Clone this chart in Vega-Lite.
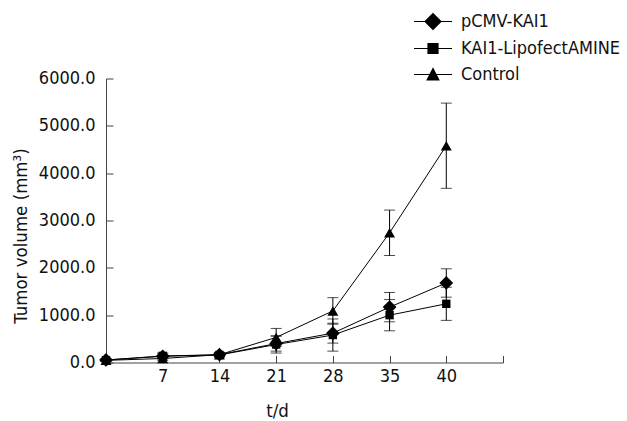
{
  "$schema": "https://vega.github.io/schema/vega-lite/v6.json",
  "autosize": {"type": "none"},
  "padding": {"left": 106, "top": 78.5, "right": 124, "bottom": 58.5},
  "width": 397,
  "height": 284,
  "background": "white",
  "config": {
    "font": "DejaVu Sans Condensed",
    "view": {"stroke": null},
    "axis": {"labelFont": "DejaVu Sans Condensed", "titleFont": "DejaVu Sans Condensed", "labelFontSize": 18, "titleFontSize": 18.5, "labelColor": "#111", "titleColor": "#111", "titleFontWeight": "normal", "domainColor": "#444", "tickColor": "#444", "grid": false}
  },
  "data": {"values": [
    {"group": "pCMV-KAI1", "day": "0", "mean": 55, "sd": 20},
    {"group": "pCMV-KAI1", "day": "7", "mean": 130, "sd": 50},
    {"group": "pCMV-KAI1", "day": "14", "mean": 165, "sd": 40},
    {"group": "pCMV-KAI1", "day": "21", "mean": 400, "sd": 160},
    {"group": "pCMV-KAI1", "day": "28", "mean": 620, "sd": 210},
    {"group": "pCMV-KAI1", "day": "35", "mean": 1170, "sd": 310},
    {"group": "pCMV-KAI1", "day": "40", "mean": 1680, "sd": 300},
    {"group": "KAI1-LipofectAMINE", "day": "0", "mean": 50, "sd": 20},
    {"group": "KAI1-LipofectAMINE", "day": "7", "mean": 140, "sd": 60},
    {"group": "KAI1-LipofectAMINE", "day": "14", "mean": 160, "sd": 40},
    {"group": "KAI1-LipofectAMINE", "day": "21", "mean": 380, "sd": 180},
    {"group": "KAI1-LipofectAMINE", "day": "28", "mean": 580, "sd": 340},
    {"group": "KAI1-LipofectAMINE", "day": "35", "mean": 1000, "sd": 330},
    {"group": "KAI1-LipofectAMINE", "day": "40", "mean": 1240, "sd": 350},
    {"group": "Control", "day": "0", "mean": 45, "sd": 20},
    {"group": "Control", "day": "7", "mean": 85, "sd": 40},
    {"group": "Control", "day": "14", "mean": 165, "sd": 50},
    {"group": "Control", "day": "21", "mean": 530, "sd": 190},
    {"group": "Control", "day": "28", "mean": 1090, "sd": 280},
    {"group": "Control", "day": "35", "mean": 2740, "sd": 480},
    {"group": "Control", "day": "40", "mean": 4580, "sd": 900}
  ]},
  "encoding": {
    "x": {
      "field": "day", "type": "ordinal",
      "scale": {"type": "point", "domain": ["0", "7", "14", "21", "28", "35", "40", "end"], "padding": 0},
      "axis": {"title": "t/d", "labelAngle": 0, "tickSize": -7, "labelPadding": 12, "labelExpr": "datum.value === '0' || datum.value === 'end' ? '' : datum.value", "titleX": 171, "titleY": 48, "titleBaseline": "middle", "titlePadding": 0}
    },
    "y": {
      "field": "mean", "type": "quantitative",
      "scale": {"domain": [0, 6000], "nice": false},
      "axis": {"title": "Tumor volume (mm³)", "format": ".1f", "values": [0, 1000, 2000, 3000, 4000, 5000, 6000], "tickSize": -7, "labelPadding": 18, "titleX": -86, "titleY": 157, "titleAlign": "center", "titleBaseline": "middle", "titleAngle": -90}
    }
  },
  "resolve": {"scale": {"shape": "independent"}, "legend": {"shape": "independent"}},
  "layer": [
    {
      "mark": {"type": "errorbar", "ticks": {"size": 11, "color": "black", "thickness": 1}, "color": "black", "thickness": 1},
      "encoding": {
        "yError": {"field": "sd"},
        "detail": {"field": "group"}
      }
    },
    {
      "mark": {"type": "line", "color": "black", "strokeWidth": 1},
      "encoding": {
        "detail": {"field": "group"}
      }
    },
    {
      "mark": {"type": "point", "filled": true, "color": "black", "opacity": 1},
      "encoding": {
        "shape": {
          "field": "group", "type": "nominal",
          "scale": {"domain": ["pCMV-KAI1", "KAI1-LipofectAMINE", "Control"], "range": ["diamond", "square", "triangle-up"]},
          "legend": null
        },
        "size": {"condition": [{"test": "datum.group === 'KAI1-LipofectAMINE'", "value": 70}, {"test": "datum.group === 'Control'", "value": 120}], "value": 190}
      }
    },
    {
      "mark": {"type": "point", "filled": true, "color": "black", "opacity": 0, "size": 64},
      "encoding": {
        "shape": {
          "field": "group", "type": "nominal",
          "scale": {"domain": ["pCMV-KAI1", "KAI1-LipofectAMINE", "Control"], "range": ["M-4.75,-0.13H4.75V0.13H-4.75ZM0,-2.2L2.2,0L0,2.2L-2.2,0Z", "M-4.75,-0.13H4.75V0.13H-4.75ZM-1.4,-1.4H1.4V1.4H-1.4Z", "M-4.75,-0.13H4.75V0.13H-4.75ZM0,-1.8L1.7,1.5H-1.7Z"]},
          "legend": {
            "title": null, "orient": "none", "legendX": 318, "legendY": -66,
            "symbolSize": 64, "symbolFillColor": "black", "symbolOpacity": 1,
            "labelFontSize": 18, "labelFont": "DejaVu Sans Condensed", "labelColor": "#111",
            "labelOffset": 19, "rowPadding": 6, "padding": 0
          }
        }
      }
    }
  ]
}
